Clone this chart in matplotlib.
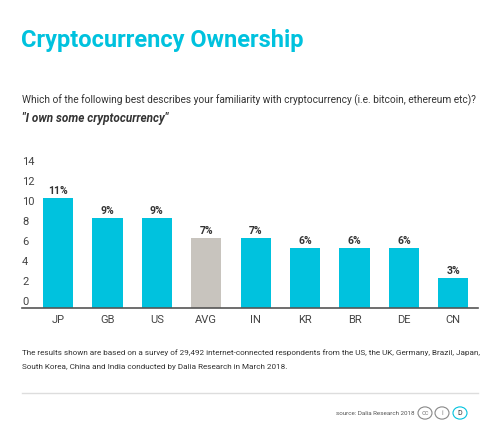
import matplotlib
matplotlib.use("Agg")
import matplotlib.pyplot as plt
from matplotlib.patches import Circle
from matplotlib.lines import Line2D

plt.rcParams['font.family'] = ['Roboto', 'DejaVu Sans']

countries = ["JP", "GB", "US", "AVG", "IN", "KR", "BR", "DE", "CN"]
values = [11, 9, 9, 7, 7, 6, 6, 6, 3]
yticks = [0, 2, 4, 6, 8, 10, 12, 14]
CYAN = "#00C2DE"
GREY = "#C8C4BE"

W, H = 500, 436
fig = plt.figure(figsize=(W/100, H/100), dpi=100)
ax = fig.add_axes([22/W, 1-308/H, (478-22)/W, (308-158)/H])
colors = [GREY if c == "AVG" else CYAN for c in countries]
x = list(range(len(countries)))
ax.bar(x, values, width=0.61, color=colors, zorder=2)
for xi, v in zip(x, values):
    ax.text(xi, v + 0.15, f"{v}%", ha="center", va="bottom", fontsize=7.5,
            fontweight="bold", color="#333333")
ax.set_xlim(-0.73, 8.5)
ax.set_ylim(0, 15)
ax.set_xticks(x)
ax.set_xticklabels(countries, fontsize=8, color="#444444")
ax.tick_params(axis="x", length=0, pad=5)
ax.set_yticks([])
for t in yticks:
    ax.text(0, t + 0.1, str(t), transform=ax.get_yaxis_transform(),
            ha="left", va="bottom", fontsize=8, color="#444444")
for s in ["top", "right", "left"]:
    ax.spines[s].set_visible(False)
ax.spines["bottom"].set_color("#555555")
ax.spines["bottom"].set_linewidth(1.2)

def ftext(px, py, s, **kw):
    fig.text(px/W, 1-py/H, s, **kw)

ftext(21, 40, "Cryptocurrency Ownership", fontsize=17, fontweight="bold",
      color=CYAN, va="center")
ftext(22, 100, "Which of the following best describes your familiarity with cryptocurrency (i.e. bitcoin, ethereum etc)?",
      fontsize=7.3, color="#333333", va="center")
ftext(22, 118, "\"I own some cryptocurrency\"", fontsize=8.5, fontstyle="italic",
      fontweight="bold", color="#333333", va="center")
ftext(22, 353, "The results shown are based on a survey of 29,492 internet-connected respondents from the US, the UK, Germany, Brazil, Japan,",
      fontsize=5.9, color="#333333", va="center")
ftext(22, 367, "South Korea, China and India conducted by Dalia Research in March 2018.",
      fontsize=5.9, color="#333333", va="center")
fig.add_artist(Line2D([22/W, 478/W], [1-393/H, 1-393/H], color="#DDDDDD", lw=1))
ftext(415, 413, "source: Dalia Research 2018", fontsize=4.5, color="#555555",
      va="center", ha="right")
for cx, lab, col in [(425, "cc", "#888888"), (442, "i", "#888888"), (460, "D", "#333333")]:
    fig.add_artist(Circle((cx/W, 1-413/H), 7/W, transform=fig.transFigure,
                          fill=False, edgecolor=col if lab != "D" else CYAN, lw=0.8))
    ftext(cx, 413, lab, fontsize=5, color=col, ha="center", va="center")

fig.savefig("out.png", dpi=100)
